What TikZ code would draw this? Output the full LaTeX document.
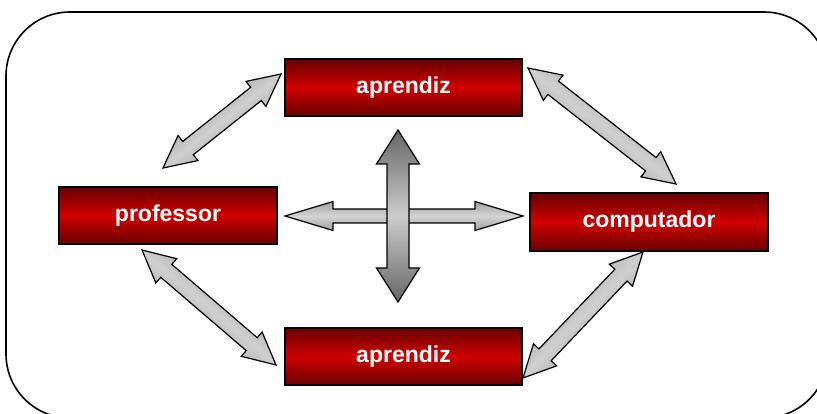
\documentclass[tikz,border=0pt]{standalone}
\usepackage{fontspec}
\setmainfont{Liberation Sans}
\usetikzlibrary{calc}
\definecolor{redD}{HTML}{680000}
\definecolor{redM}{HTML}{D00000}
\definecolor{dgEdge}{HTML}{8A8A8A}
\definecolor{dgMid}{HTML}{CFCFCF}
\definecolor{hEdge}{HTML}{A0A0A0}
\definecolor{hMid}{HTML}{D4D4D4}
\definecolor{vEnd}{HTML}{666666}
\definecolor{vMid}{HTML}{CCCCCC}
\tikzset{
  redbox/.style={rectangle, draw=black, line width=1.3pt, top color=redD, bottom color=redD, middle color=redM,
    text=white, font=\bfseries\fontsize{23}{27}\selectfont, inner sep=0pt, outer sep=0pt},
  arrowline/.style={draw=black, line width=1.2pt, line join=miter},
  diagarrow/.style={arrowline, top color=dgEdge, bottom color=dgEdge, middle color=dgMid},
  horarrow/.style={arrowline, top color=hEdge, bottom color=hEdge, middle color=hMid},
  verarrow/.style={arrowline, top color=vEnd, bottom color=vEnd, middle color=vMid},
  frameline/.style={draw=black, line width=1.6pt, rounded corners=64pt}
}
% #1 tip A, #2 tip B, #3 shaft half width, #4 head half width, #5 head length, #6 style
\newcommand\blockarrow[6]{%
  \coordinate (ba1) at ($(#1)!#5!(#2)$);
  \coordinate (ba2) at ($(#2)!#5!(#1)$);
  \path[#6] (#1) -- ($(ba1)!#4!90:(#2)$) -- ($(ba1)!#3!90:(#2)$)
    -- ($(ba2)!#3!-90:(#1)$) -- ($(ba2)!#4!-90:(#1)$) -- (#2)
    -- ($(ba2)!#4!90:(#1)$) -- ($(ba2)!#3!90:(#1)$)
    -- ($(ba1)!#3!-90:(#2)$) -- ($(ba1)!#4!-90:(#2)$) -- cycle;
}
\begin{document}
\begin{tikzpicture}[x=1pt,y=-1pt]
  \useasboundingbox (0,0) rectangle (817,414);
  \clip (0,0) rectangle (817,414);
  \path[frameline] (6,12) rectangle (828,418);

  \node[redbox, minimum width=237pt, minimum height=57pt] (ap1) at (403.5,87.5) {aprendiz};
  \node[redbox, minimum width=218pt, minimum height=57pt] (prof) at (168,215.5) {professor};
  \node[redbox, minimum width=238pt, minimum height=58pt] (comp) at (649,222) {computador};
  \node[redbox, minimum width=237pt, minimum height=57pt] (ap2) at (403.5,356.5) {aprendiz};

  \coordinate (tlA) at (163,168);  \coordinate (tlB) at (281,74);
  \coordinate (trA) at (528,68);   \coordinate (trB) at (676,184);
  \coordinate (blA) at (142,250);  \coordinate (blB) at (276,365);
  \coordinate (brA) at (523,378);  \coordinate (brB) at (643,252);
  \coordinate (hA) at (285,216);   \coordinate (hB) at (523,216);
  \coordinate (vA) at (398,130);   \coordinate (vB) at (398,302);

  \blockarrow{tlA}{tlB}{8.5pt}{16pt}{32pt}{diagarrow, shading angle=38.5}
  \blockarrow{trA}{trB}{8.5pt}{16pt}{32pt}{diagarrow, shading angle=-38}
  \blockarrow{blA}{blB}{8.5pt}{16pt}{32pt}{diagarrow, shading angle=-40}
  \blockarrow{brA}{brB}{8.5pt}{16pt}{32pt}{diagarrow, shading angle=46}
  \blockarrow{hA}{hB}{7pt}{14.5pt}{48pt}{horarrow}
  \blockarrow{vA}{vB}{11pt}{21.5pt}{34pt}{verarrow}
\end{tikzpicture}
\end{document}
